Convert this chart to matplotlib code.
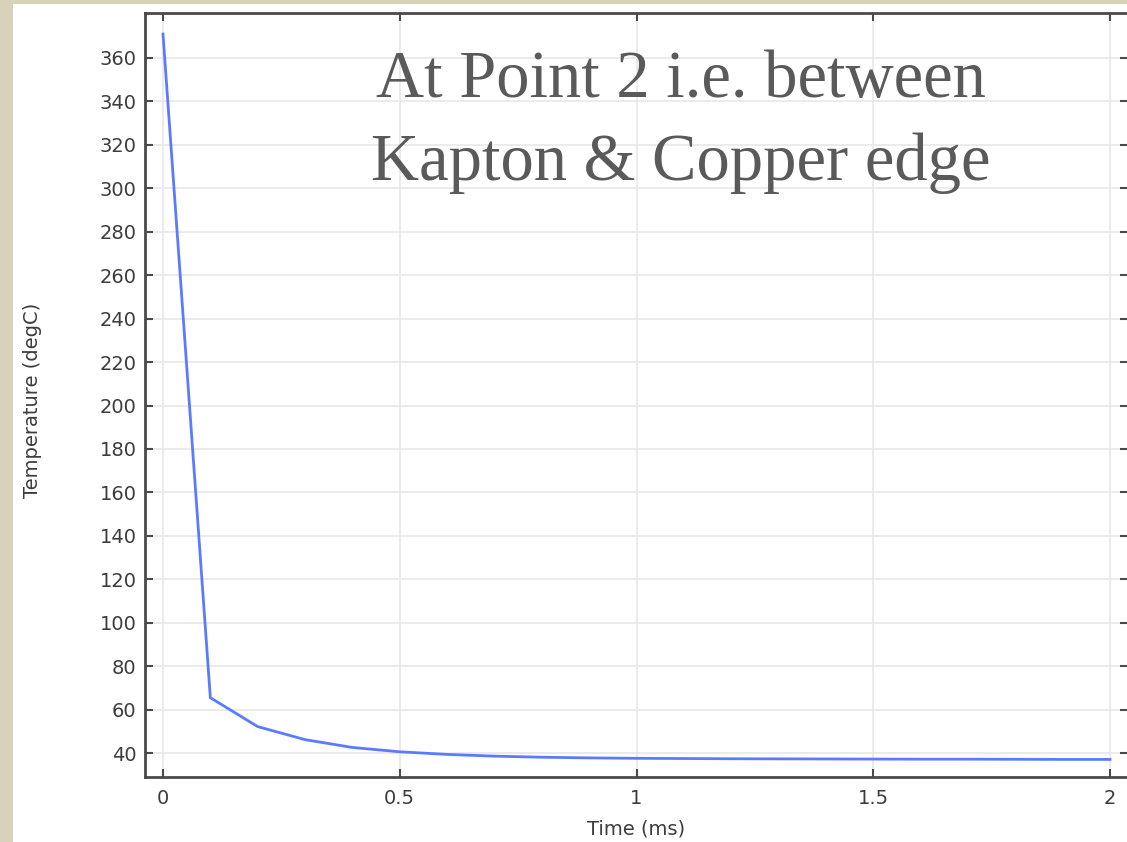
import matplotlib
matplotlib.use("Agg")
import matplotlib.pyplot as plt
from matplotlib.patches import Rectangle

# Temperature at point 2 (between Kapton and copper edge)
time_ms = [0.0, 0.1, 0.2, 0.3, 0.4, 0.5, 0.6, 0.7, 0.8, 0.9, 1.0,
           1.1, 1.2, 1.3, 1.4, 1.5, 1.6, 1.7, 1.8, 1.9, 2.0]
temp_degc = [371.0, 65.5, 52.2, 46.2, 42.6, 40.6, 39.4, 38.6, 38.1, 37.8, 37.6,
             37.5, 37.4, 37.35, 37.3, 37.25, 37.2, 37.2, 37.15, 37.1, 37.1]

x_ticks = [0, 0.5, 1, 1.5, 2]
x_tick_labels = ["0", "0.5", "1", "1.5", "2"]
y_ticks = list(range(40, 361, 20))

title_lines = "At Point 2 i.e. between\nKapton & Copper edge"

W, H = 1127, 842
fig = plt.figure(figsize=(W / 100, H / 100), dpi=100)
fig.patch.set_facecolor("#d8d2bd")
# white slide panel behind the plot
fig.patches.append(Rectangle((13 / W, 0), 1, (H - 4) / H, transform=fig.transFigure,
                             facecolor="white", edgecolor="none", zorder=-10))

ax = fig.add_axes([145 / W, (H - 777) / H, (1128 - 145) / W, (777 - 13) / H])
ax.set_facecolor("white")

ax.plot(time_ms, temp_degc, color="#5b7bff", lw=2.0, zorder=3)

ax.set_xlim(-0.038, 2.038)
ax.set_ylim(29.0, 380.7)
ax.set_xticks(x_ticks)
ax.set_xticklabels(x_tick_labels)
ax.set_yticks(y_ticks)

ax.grid(True, color="#e8e8e8", lw=1.2, zorder=0)
ax.set_axisbelow(True)

for side in ax.spines.values():
    side.set_color("#4a4a4a")
    side.set_linewidth(2.0)

ax.tick_params(direction="in", length=6, width=1.5, color="#4a4a4a",
               top=True, right=True, labelsize=14, labelcolor="#3c3c3c", pad=6)
ax.tick_params(axis="x", pad=9)

ax.set_xlabel("Time (ms)", fontsize=14, color="#3c3c3c")
ax.set_ylabel("Temperature (degC)", fontsize=14, color="#3c3c3c")
ax.xaxis.set_label_coords(0.5, -0.056)
ax.yaxis.set_label_coords(-0.105, 0.493)

fig.text(681 / W, 1 - 180 / H, title_lines, ha="center", va="baseline",
         fontsize=48, family="Liberation Serif", color="#5a5a5a", linespacing=1.45,
         zorder=5)

fig.savefig("out.png", dpi=100, facecolor=fig.get_facecolor())
